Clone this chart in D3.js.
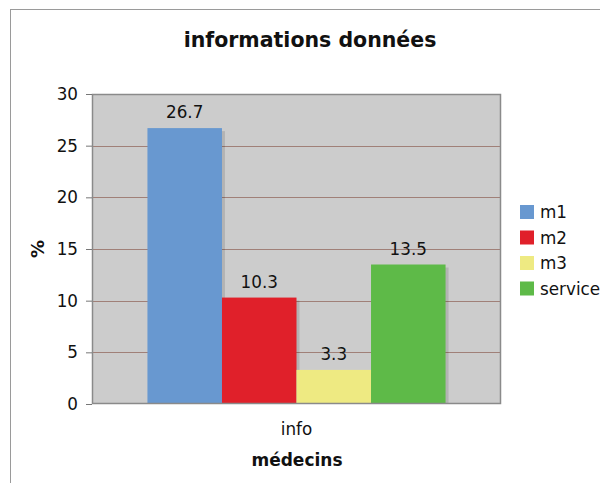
<!DOCTYPE html>
<html><head><meta charset="utf-8">
<script src="https://cdn.jsdelivr.net/npm/d3@7"></script>
<style>body{margin:0;background:#fff}svg{display:block}text{font-family:"DejaVu Sans",Verdana,sans-serif}</style>
</head><body><svg id="c" width="600" height="483"></svg>
<script>
const categories = ["info"];
const seriesNames = ["m1", "m2", "m3", "service"];
const seriesValues = [26.7, 10.3, 3.3, 13.5];
const seriesColors = ["#6898d0", "#e0202a", "#eeea82", "#5eba48"];
const yTicks = [0, 5, 10, 15, 20, 25, 30];

const svg = d3.select("#c");
const m = {l: 92, r: 501, t: 94, b: 404};
const FS = 16.8;

svg.append("rect").attr("x", 10.5).attr("y", 9.5).attr("width", 620).attr("height", 500)
  .attr("fill", "#fff").attr("stroke", "#9a9a9a");

const x0 = d3.scaleBand().domain(categories).range([m.l, m.r]).paddingInner(0).paddingOuter(0.186);
const x1 = d3.scaleBand().domain(seriesNames).range([0, x0.bandwidth()]).padding(0);
const y = d3.scaleLinear().domain([0, 30]).range([m.b, m.t]);

svg.append("rect").attr("x", m.l).attr("y", m.t).attr("width", m.r - m.l).attr("height", m.b - m.t)
  .attr("fill", "#cccccc");

svg.append("g").selectAll("line").data(yTicks.filter(d => d > 0)).join("line")
  .attr("x1", m.l).attr("x2", m.r).attr("y1", d => Math.round(y(d)) + 0.5).attr("y2", d => Math.round(y(d)) + 0.5)
  .attr("stroke", "#a08078").attr("stroke-width", 1.2);

const data = seriesNames.map((s, i) => ({s, v: seriesValues[i], c: seriesColors[i], cat: categories[0]}));

// shadows
svg.append("g").selectAll("rect").data(data).join("rect")
  .attr("x", d => x0(d.cat) + x1(d.s) + 3).attr("y", d => y(d.v) + 3)
  .attr("width", x1.bandwidth()).attr("height", d => m.b - y(d.v) - 3)
  .attr("fill", "#000").attr("opacity", 0.12);

svg.append("g").selectAll("rect").data(data).join("rect")
  .attr("x", d => x0(d.cat) + x1(d.s)).attr("y", d => y(d.v))
  .attr("width", x1.bandwidth()).attr("height", d => m.b - y(d.v))
  .attr("fill", d => d.c);

svg.append("g").selectAll("text").data(data).join("text")
  .attr("x", d => x0(d.cat) + x1(d.s) + x1.bandwidth() / 2).attr("y", d => y(d.v) - 10)
  .attr("text-anchor", "middle").attr("font-size", FS).attr("fill", "#111")
  .text(d => d.v.toFixed(1));

svg.append("rect").attr("x", m.l + 0.5).attr("y", m.t + 0.5).attr("width", m.r - m.l - 1).attr("height", m.b - m.t - 1)
  .attr("fill", "none").attr("stroke", "#8a8a8a").attr("stroke-width", 1.5);

const yAxis = svg.append("g").attr("transform", `translate(${m.l},0)`)
  .call(d3.axisLeft(y).tickValues(yTicks).tickSize(6).tickPadding(8));
yAxis.select(".domain").remove();
yAxis.selectAll(".tick line").attr("stroke", "#777");
yAxis.selectAll(".tick text").attr("font-size", FS).attr("fill", "#111")
  .attr("font-family", "DejaVu Sans, Verdana, sans-serif");

const xAxis = svg.append("g").attr("transform", `translate(0,${m.b})`)
  .call(d3.axisBottom(x0).tickSize(0).tickPadding(19));
xAxis.select(".domain").remove();
xAxis.selectAll(".tick text").attr("font-size", FS).attr("fill", "#111")
  .attr("font-family", "DejaVu Sans, Verdana, sans-serif");

svg.append("text").attr("x", 310).attr("y", 47).attr("text-anchor", "middle")
  .attr("font-size", 20.5).attr("font-weight", "bold").attr("fill", "#111").text("informations données");

svg.append("text").attr("x", 297).attr("y", 466).attr("text-anchor", "middle")
  .attr("font-size", 17).attr("font-weight", "bold").attr("fill", "#111").text("médecins");

svg.append("text").attr("transform", "translate(44,249) rotate(-90)").attr("text-anchor", "middle")
  .attr("font-size", 18).attr("font-weight", "bold").attr("fill", "#111").text("%");

const leg = svg.append("g").selectAll("g").data(data).join("g")
  .attr("transform", (d, i) => `translate(520,${205 + i * 25.5})`);
leg.append("rect").attr("width", 14).attr("height", 14).attr("fill", d => d.c);
leg.append("text").attr("x", 20).attr("y", 13).attr("font-size", FS).attr("fill", "#111").text(d => d.s);
</script></body></html>
